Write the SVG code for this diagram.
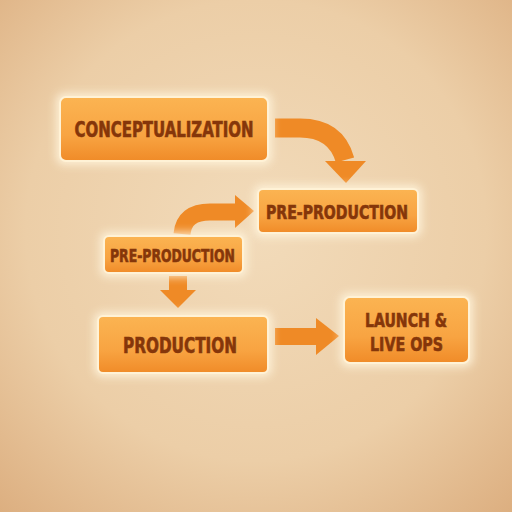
<svg xmlns="http://www.w3.org/2000/svg" width="512" height="512" viewBox="0 0 512 512">
<defs>
<radialGradient id="bg" cx="50%" cy="45%" r="75%">
<stop offset="0" stop-color="#f2dbba"/>
<stop offset="0.6" stop-color="#eccea7"/>
<stop offset="1" stop-color="#dcae7f"/>
</radialGradient>
<linearGradient id="box" x1="0" y1="0" x2="0" y2="1">
<stop offset="0" stop-color="#fbb452"/>
<stop offset="0.6" stop-color="#f8a442"/>
<stop offset="1" stop-color="#f08b28"/>
</linearGradient>
<filter id="glow" x="-20%" y="-30%" width="140%" height="160%">
<feGaussianBlur stdDeviation="4"/>
</filter>
<style>
.glow{fill:#fff4dc;opacity:0.85;filter:url(#glow)}
.box{fill:url(#box);stroke:#fff2d6;stroke-width:2}
.lbl{font-family:"DejaVu Sans","Liberation Sans",sans-serif;font-weight:bold;font-stretch:condensed;fill:#85360a;stroke:#85360a;stroke-width:0.6;text-anchor:middle}
.arr{fill:#ef8a26}
.shaft{fill:none;stroke:#ef8a26;stroke-linecap:butt}
</style>
</defs>
<rect width="512" height="512" fill="url(#bg)"/>
<g id="connectors">
<path class="shaft" d="M275,128 H300 Q336,128 345,160" stroke-width="19"/>
<polygon class="arr" points="325,161 366,161 346,183"/>
<path class="shaft" d="M182,234 Q184,212 210,212 H236" stroke-width="17"/>
<polygon class="arr" points="235,195 254,211 235,228"/>
<rect class="arr" x="169" y="276" width="18" height="15"/>
<polygon class="arr" points="160,290 196,290 178,308"/>
<rect class="arr" x="275" y="328" width="43" height="17"/>
<polygon class="arr" points="316,318 339,336 316,355"/>
</g>
<g id="conceptualization">
<rect class="glow" x="56" y="93" width="216" height="72" rx="8"/>
<rect class="box" x="60" y="97" width="208" height="64" rx="6"/>
<text class="lbl" x="164" y="137" font-size="21" textLength="179" lengthAdjust="spacingAndGlyphs">CONCEPTUALIZATION</text>
</g>
<g id="preproduction-right">
<rect class="glow" x="254" y="185" width="168" height="52" rx="8"/>
<rect class="box" x="258" y="189" width="160" height="44" rx="5"/>
<text class="lbl" x="337" y="219" font-size="19" textLength="142" lengthAdjust="spacingAndGlyphs">PRE-PRODUCTION</text>
</g>
<g id="preproduction-left">
<rect class="glow" x="100" y="232" width="147" height="45" rx="7"/>
<rect class="box" x="104" y="236" width="139" height="37" rx="5"/>
<text class="lbl" x="172.5" y="262" font-size="18" textLength="125" lengthAdjust="spacingAndGlyphs">PRE-PRODUCTION</text>
</g>
<g id="production">
<rect class="glow" x="94" y="312" width="178" height="65" rx="8"/>
<rect class="box" x="98" y="316" width="170" height="57" rx="5"/>
<text class="lbl" x="180" y="353" font-size="22" textLength="114" lengthAdjust="spacingAndGlyphs">PRODUCTION</text>
</g>
<g id="launch">
<rect class="glow" x="340" y="293" width="133" height="74" rx="8"/>
<rect class="box" x="344" y="297" width="125" height="66" rx="6"/>
<text class="lbl" x="406" y="327" font-size="20" textLength="82" lengthAdjust="spacingAndGlyphs">LAUNCH &amp;</text>
<text class="lbl" x="406.5" y="351" font-size="20" textLength="73" lengthAdjust="spacingAndGlyphs">LIVE OPS</text>
</g>
</svg>
